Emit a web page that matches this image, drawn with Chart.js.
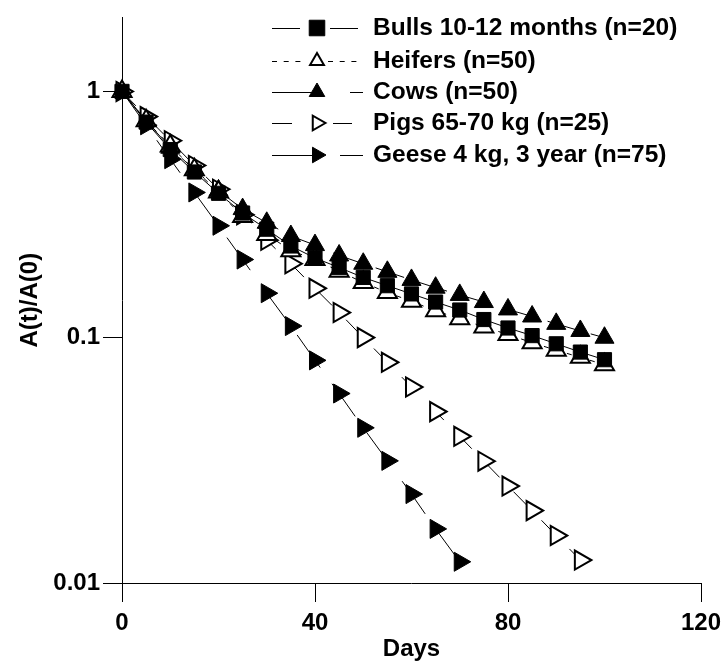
<!DOCTYPE html>
<html>
<head>
<meta charset="utf-8">
<script src="https://cdn.jsdelivr.net/npm/chart.js@4.4.1/dist/chart.umd.min.js"></script>
<style>
  body { margin: 0; background: #fff; }
</style>
</head>
<body>
<canvas id="decayChart" width="728" height="666"></canvas>
<script>
// sampling days (every 5 days)
var days = [0, 5, 10, 15, 20, 25, 30, 35, 40, 45, 50, 55, 60, 65, 70, 75, 80, 85, 90, 95, 100];

var seriesNames = [
  "Bulls 10-12 months (n=20)",
  "Heifers (n=50)",
  "Cows (n=50)",
  "Pigs 65-70 kg (n=25)",
  "Geese 4 kg, 3 year (n=75)"
];

// A(t)/A(0)
var bulls   = [1, 0.75, 0.58, 0.47, 0.385, 0.32, 0.275, 0.235, 0.21, 0.192, 0.175, 0.162, 0.15, 0.139, 0.129, 0.118, 0.109, 0.1015, 0.094, 0.087, 0.081];
var heifers = [1, 0.76, 0.6, 0.48, 0.39, 0.31, 0.262, 0.225, 0.207, 0.1855, 0.167, 0.152, 0.14, 0.128, 0.119, 0.11, 0.1026, 0.095, 0.0885, 0.0828, 0.0773];
var cows    = [1, 0.76, 0.59, 0.48, 0.395, 0.332, 0.292, 0.258, 0.237, 0.215, 0.199, 0.1845, 0.171, 0.159, 0.1486, 0.139, 0.1297, 0.1214, 0.1133, 0.106, 0.0995];
var pigs    = [1, 0.79, 0.63, 0.5, 0.4, 0.315, 0.248, 0.199, 0.158, 0.126, 0.0996, 0.079, 0.0627, 0.0498, 0.0395, 0.0313, 0.0248, 0.0197, 0.0156, 0.0124];
var geese   = [1, 0.728, 0.53, 0.388, 0.284, 0.207, 0.151, 0.111, 0.0805, 0.059, 0.0428, 0.0314, 0.023, 0.0166, 0.0122];

var xTickLabels = [0, 40, 80, 120];
var yTickLabels = [1, 0.1, 0.01];

var FONT = '"Liberation Sans", Arial, Helvetica, sans-serif';

function toPoints(vals) {
  return vals.map(function (v, i) { return { x: days[i], y: v }; });
}

function isLabelled(list, v) {
  return list.some(function (l) { return Math.abs(l - v) < l * 1e-6 + 1e-12; });
}

// marker / line style per series
var styles = [
  { pointStyle: 'rect',     rotation: 0,  radius: 10, fill: '#000', bw: 1, dash: [],       legendR: 11,  legendDash: [],       segs: [[272, 300], [330, 358]] },
  { pointStyle: 'triangle', rotation: 0,  radius: 11, fill: '#fff', bw: 2, dash: [5, 7],   legendR: 8,   legendDash: [5, 6.7], segs: [[272, 301], [328, 357]] },
  { pointStyle: 'triangle', rotation: 0,  radius: 11, fill: '#000', bw: 1, dash: [30, 15], legendR: 9,   legendDash: [],       segs: [[272, 312], [350, 363]] },
  { pointStyle: 'triangle', rotation: 90, radius: 11, fill: '#fff', bw: 2, dash: [20, 20], legendR: 8.5, legendDash: [],       segs: [[272, 292], [333, 352]] },
  { pointStyle: 'triangle', rotation: 90, radius: 11, fill: '#000', bw: 1, dash: [40, 20], legendR: 9,   legendDash: [],       segs: [[272, 312], [340, 363]] }
];
var legendRows = [28, 61, 92, 123, 155];

var allSeries = [bulls, heifers, cows, pigs, geese];

var datasets = allSeries.map(function (vals, i) {
  var s = styles[i];
  return {
    label: seriesNames[i],
    data: toPoints(vals),
    borderColor: '#000',
    borderWidth: 1,
    borderDash: s.dash,
    fill: false,
    tension: 0,
    clip: false,
    pointStyle: s.pointStyle,
    pointRotation: s.rotation,
    pointRadius: s.radius,
    pointBackgroundColor: s.fill,
    pointBorderColor: '#000',
    pointBorderWidth: s.bw
  };
});

// tick marks: long for labelled ticks, short for the rest
var tickMarks = {
  id: 'tickMarks',
  afterDraw: function (chart) {
    var ctx = chart.ctx;
    var xs = chart.scales.x, ys = chart.scales.y;
    ctx.save();
    ctx.strokeStyle = '#000';
    ctx.lineWidth = 1;
    ctx.beginPath();
    ys.ticks.forEach(function (t) {
      var py = Math.round(ys.getPixelForValue(t.value)) + 0.5;
      var len = isLabelled(yTickLabels, t.value) ? 19 : 9;
      ctx.moveTo(ys.right, py);
      ctx.lineTo(ys.right - len, py);
    });
    xs.ticks.forEach(function (t) {
      var px = Math.round(xs.getPixelForValue(t.value)) + 0.5;
      var len = isLabelled(xTickLabels, t.value) ? 19 : 9;
      ctx.moveTo(px, xs.top);
      ctx.lineTo(px, xs.top + len);
    });
    ctx.stroke();
    ctx.restore();
  }
};

// legend: line sample with marker, bold label
var lineLegend = {
  id: 'lineLegend',
  afterDraw: function (chart) {
    var ctx = chart.ctx;
    ctx.save();
    chart.data.datasets.forEach(function (ds, i) {
      var s = styles[i];
      var y = legendRows[i];
      ctx.strokeStyle = '#000';
      ctx.lineWidth = 1;
      ctx.setLineDash(s.legendDash);
      ctx.beginPath();
      s.segs.forEach(function (seg) {
        ctx.moveTo(seg[0], y + 0.5);
        ctx.lineTo(seg[1], y + 0.5);
      });
      ctx.stroke();
      ctx.setLineDash([]);
      ctx.fillStyle = s.fill;
      ctx.strokeStyle = '#000';
      ctx.lineWidth = s.bw;
      Chart.helpers.drawPoint(ctx, {
        pointStyle: s.pointStyle,
        rotation: s.rotation,
        radius: s.legendR,
        borderWidth: s.bw
      }, 317, y);
      ctx.fillStyle = '#000';
      ctx.font = 'bold 24.5px ' + FONT;
      ctx.textBaseline = 'middle';
      ctx.textAlign = 'left';
      ctx.fillText(ds.label, 373, y);
    });
    ctx.restore();
  }
};

var ctx = document.getElementById('decayChart');
var decayChart = new Chart(ctx, {
  type: 'line',
  data: { datasets: datasets },
  options: {
    responsive: false,
    devicePixelRatio: 1,
    animation: false,
    events: [],
    layout: { padding: { top: 11, right: 22, left: 0, bottom: 0 } },
    plugins: {
      legend: { display: false },
      tooltip: { enabled: false }
    },
    elements: { point: { hitRadius: 0 } },
    scales: {
      x: {
        type: 'linear',
        min: 0,
        max: 120,
        afterFit: function (scale) { scale.height = 83; },
        ticks: {
          stepSize: 20,
          autoSkip: false,
          maxRotation: 0,
          padding: 7,
          color: '#000',
          font: { family: FONT, size: 24, weight: 'bold' },
          callback: function (v) { return isLabelled(xTickLabels, v) ? String(v) : null; }
        },
        grid: { display: true, drawOnChartArea: false, tickLength: 19, tickColor: 'rgba(0,0,0,0)' },
        border: { display: true, color: '#000', width: 1 },
        title: {
          display: true,
          text: 'Days',
          color: '#000',
          font: { family: FONT, size: 24, weight: 'bold' },
          padding: { top: 0, bottom: 2 }
        }
      },
      y: {
        type: 'logarithmic',
        min: 0.01,
        max: 2,
        afterFit: function (scale) { scale.width = 122; },
        ticks: {
          autoSkip: false,
          padding: 3,
          color: '#000',
          font: { family: FONT, size: 24, weight: 'bold' },
          callback: function (v) { return isLabelled(yTickLabels, v) ? String(v) : null; }
        },
        grid: { display: true, drawOnChartArea: false, tickLength: 19, tickColor: 'rgba(0,0,0,0)' },
        border: { display: true, color: '#000', width: 1 },
        title: {
          display: true,
          text: 'A(t)/A(0)',
          color: '#000',
          font: { family: FONT, size: 24, weight: 'bold' },
          padding: { top: 16, bottom: 0 }
        }
      }
    }
  },
  plugins: [tickMarks, lineLegend]
});
</script>
</body>
</html>
